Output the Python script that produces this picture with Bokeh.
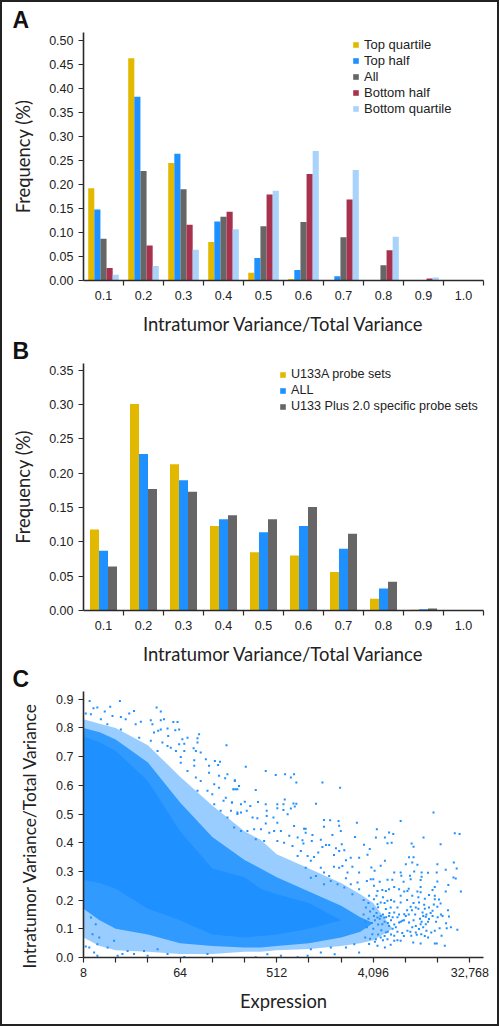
from bokeh.plotting import figure
from bokeh.layouts import column
from bokeh.models import (Range1d, FixedTicker, Legend, LegendItem, Title, NumeralTickFormatter)
from bokeh.embed import file_html
from bokeh.resources import INLINE

bins = ["0.1", "0.2", "0.3", "0.4", "0.5", "0.6", "0.7", "0.8", "0.9", "1.0"]

top_quartile = [0.192, 0.463, 0.245, 0.080, 0.016, 0.003, 0.001, 0.0, 0.0, 0.0]
top_half = [0.148, 0.383, 0.264, 0.123, 0.047, 0.022, 0.009, 0.001, 0.0, 0.0]
all_a = [0.087, 0.228, 0.190, 0.133, 0.113, 0.122, 0.090, 0.032, 0.001, 0.0]
bottom_half = [0.026, 0.073, 0.116, 0.143, 0.179, 0.222, 0.169, 0.063, 0.004, 0.0]
bottom_quartile = [0.012, 0.030, 0.064, 0.107, 0.187, 0.270, 0.230, 0.091, 0.006, 0.0]

u133a = [0.118, 0.301, 0.213, 0.123, 0.085, 0.080, 0.056, 0.017, 0.001, 0.0]
all_b = [0.087, 0.228, 0.190, 0.133, 0.114, 0.123, 0.090, 0.032, 0.002, 0.0]
u133plus = [0.064, 0.177, 0.173, 0.139, 0.133, 0.151, 0.112, 0.042, 0.003, 0.0]

# Panel C: log2(expression). Dense cloud read as envelopes at these positions.
band_x = [3, 3.5, 4, 5, 6, 7, 8, 8.5, 9, 10, 11, 11.6, 12.0, 12.6]
outer_lo = [0.07, 0.04, 0.025, 0.02, 0.012, 0.012, 0.02, 0.02, 0.025, 0.03, 0.04, 0.05, 0.06, 0.10]
outer_hi = [0.83, 0.815, 0.80, 0.74, 0.63, 0.53, 0.44, 0.41, 0.36, 0.31, 0.26, 0.22, 0.19, 0.10]
mid_lo = [0.17, 0.13, 0.10, 0.08, 0.05, 0.04, 0.035, 0.035, 0.04, 0.05, 0.07, 0.09, 0.12, 0.12]
mid_hi = [0.80, 0.785, 0.76, 0.68, 0.54, 0.42, 0.34, 0.31, 0.28, 0.23, 0.18, 0.14, 0.12, 0.12]
core_lo = [0.27, 0.26, 0.24, 0.17, 0.13, 0.08, 0.07, 0.075, 0.08, 0.10, 0.13, 0.13, 0.13, 0.13]
core_hi = [0.77, 0.75, 0.72, 0.615, 0.44, 0.31, 0.28, 0.24, 0.22, 0.19, 0.13, 0.13, 0.13, 0.13]

# Sparse points at the fringe of the cloud, as (log2 expression, variance ratio)
fringe_top = [
 (3.19,.894),(4.13,.894),(3.83,.874),(3.43,.871),(3.31,.869),(5.27,.871),(5.4,.857),(4.57,.859),(3.66,.857),
 (4.42,.85),(3.07,.85),(3.23,.848),(3.9,.842),(4.16,.838),(5.4,.827),(5.5,.83),(5.79,.821),(5.92,.821),
 (5.09,.827),(4.78,.822),(3.54,.83),(4.31,.83),(4.62,.813),(5.14,.813),(5.61,.798),(5.97,.795),(5.85,.792),
 (5.4,.795),(5.32,.79),(5.19,.784),(6.59,.778),(6.54,.764),(6.54,.749),(6.23,.766),(6.07,.761),(5.63,.772),
 (7.44,.74),(6.13,.745),(5.97,.743),(5.45,.749),(6.42,.729),(6.49,.72),(6.64,.714),(6.13,.72),(6.02,.699),
 (6.44,.687),(6.8,.691),(7.08,.685),(7.24,.682),(7.18,.671),(6.44,.668),(6.9,.668),(7.47,.639),(7.4,.625),
 (7.21,.633),(6.9,.644),(7.7,.618),(7.83,.598),(7.78,.586),(7.66,.586),(7.21,.592),(7.06,.604),(7.42,.557),
 (7.35,.546),(7.61,.54),(7.06,.534),(7.26,.511),(6.85,.581),(6.64,.615),(6.54,.581),(6.23,.65),(5.87,.72),
 (5.71,.731),(5.3,.72),(5.09,.755),(4.73,.766),(4.16,.795),(3.74,.813),(7.58,.511),(7.78,.5),(7.47,.488),
 (7.89,.534),(7.0,.569),(6.49,.627),(6.02,.679),(5.61,.737),
]
fringe_mid = [
 (8.04,.665),(8.66,.65),(8.97,.636),(9.26,.639),(9.44,.627),(9.54,.639),(9.61,.61),(10.42,.61),(10.97,.592),
 (7.7,.615),(7.83,.598),(7.66,.586),(7.73,.586),(8.35,.584),(9.25,.551),(9.02,.534),(9.02,.52),(9.21,.534),
 (9.21,.514),(9.52,.537),(9.61,.536),(9.56,.526),(9.44,.519),(9.34,.499),(10.22,.536),(8.01,.543),(8.42,.542),
 (7.61,.54),(8.66,.534),(8.18,.528),(8.07,.511),(8.69,.511),(8.69,.493),(7.89,.505),(7.78,.505),(8.9,.488),
 (8.25,.488),(8.4,.485),(9.02,.47),(8.66,.467),(9.54,.458),(10.47,.479),(10.66,.478),(10.92,.476),(11.49,.47),
 (10.47,.456),(10.94,.459),(9.85,.449),(9.9,.449),(9.9,.435),(10.73,.427),(10.99,.441),(11.43,.42),(10.11,.427),
 (10.09,.406),(10.37,.41),(9.8,.409),(9.83,.397),(10.53,.392),(10.63,.392),(10.42,.385),(11.02,.395),(10.84,.381),
 (10.94,.371),(11.1,.374),(10.78,.357),(10.29,.366),(11.3,.348),(11.56,.348),(11.15,.339),(9.65,.354),(10.16,.35),
 (11.04,.319),(11.35,.316),(10.78,.316),(10.94,.313),(10.47,.296),(10.63,.284),(11.56,.296),(11.2,.296),(11.15,.276),
 (11.51,.261),(11.3,.255),(10.68,.267),(10.89,.255),(10.06,.337),(9.9,.313),(10.37,.313),(10.22,.284),(10.06,.278),
 (10.47,.255),(11.1,.244),(11.35,.22),(11.56,.238),(8.92,.441),(9.13,.441),(9.39,.424),(9.65,.418),(8.77,.435),
 (8.51,.447),(8.3,.447),(8.09,.441),(7.89,.441),(7.68,.453),(9.23,.4),(9.49,.389),(9.75,.371),(9.02,.406),
 (8.61,.406),(8.35,.412),(9.96,.354),
]
fringe_right = [
 (13.87,.505),(12.85,.476),(12.11,.447),(12.49,.436),(12.62,.43),(12.08,.418),(12.36,.418),(13.56,.418),(14.53,.433),
 (14.68,.43),(12.44,.398),(12.57,.4),(13.19,.397),(13.25,.386),(14.09,.395),(11.89,.378),(11.82,.358),(11.71,.393),
 (13.11,.349),(13.25,.349),(13.21,.331),(13.01,.325),(13.37,.323),(13.99,.325),(14.5,.331),(14.59,.31),(14.25,.306),
 (12.36,.337),(12.23,.32),(11.94,.314),(12.04,.302),(12.65,.296),(12.85,.296),(13.27,.3),(13.5,.296),(13.7,.295),
 (13.97,.296),(12.87,.285),(13.14,.285),(13.16,.273),(13.5,.281),(13.47,.27),(14.49,.279),(14.56,.275),(14.33,.253),
 (13.99,.265),(13.91,.246),(13.84,.235),(12.94,.264),(12.44,.271),(12.59,.271),(12.2,.264),(11.92,.273),(12.0,.273),
 (11.8,.267),(14.72,.23),(14.25,.23),(13.47,.246),(12.8,.238),(13.06,.232),(13.37,.23),(13.47,.227),(12.65,.246),
 (12.49,.238),(12.28,.235),(12.39,.232),(12.13,.232),(12.02,.25),(12.85,.215),(12.96,.23),(13.21,.215),(13.73,.218),
 (13.91,.215),(13.91,.203),(14.04,.202),(14.09,.188),(13.99,.177),(14.32,.165),(14.15,.145),(14.35,.143),(14.26,.119),
 (14.41,.105),(14.28,.102),(14.61,.097),(14.22,.041),(13.97,.049),(13.91,.049),(13.47,.049),(13.24,.052),(14.12,.076),
 (13.91,.093),(13.8,.087),(14.06,.102),(13.65,.093),(13.49,.081),(13.35,.079),(13.18,.076),(12.85,.058),(12.65,.058),
 (12.54,.044),(12.36,.035),(12.13,.041),(11.87,.047),(12.39,.087),(12.65,.076),(13.06,.093),(13.32,.11),(13.47,.116),
 (13.73,.134),(13.63,.142),(13.84,.145),(13.53,.157),(13.58,.184),(13.32,.174),(13.16,.177),(13.42,.192),(13.73,.174),
 (13.84,.163),(13.01,.145),(12.9,.128),(12.8,.122),(12.96,.151),(12.75,.174),(12.85,.192),(12.65,.157),(12.49,.145),
 (12.34,.139),(12.23,.145),(12.13,.139),(12.02,.145),(12.28,.116),(12.49,.11),(12.7,.105),(12.23,.192),(12.44,.198),
 (12.13,.186),(12.54,.174),(12.39,.169),(12.02,.203),(11.87,.215),(11.77,.174),(13.21,.105),(13.32,.087),(13.42,.099),
 (13.63,.116),(13.11,.122),(12.23,.07),(12.08,.064),(12.44,.064),(11.97,.081),
 (11.7,.15),(11.75,.125),(11.8,.105),(11.85,.135),(11.9,.16),(11.95,.12),(12.0,.1),(12.05,.13),(12.1,.155),
 (12.15,.115),(12.2,.135),(12.25,.095),(12.3,.15),(12.35,.125),(12.4,.14),(12.45,.12),(12.5,.155),(12.55,.13),
 (12.6,.14),(12.65,.115),(12.75,.14),(12.8,.15),(12.85,.125),(12.95,.13),(13.05,.165),(13.1,.15),(13.2,.165),
 (13.25,.13),(13.3,.15),(13.4,.17),(13.45,.135),(13.5,.125),(13.55,.145),(13.6,.17),(13.65,.15),(13.7,.125),
 (13.78,.155),(13.88,.185),(13.95,.125),(14.0,.14),(14.1,.15),(13.55,.105),(13.7,.07),(13.6,.075),(13.15,.09),
 (12.9,.085),(12.75,.09),(12.55,.08),(12.35,.075),(12.15,.08),(12.05,.055),(11.9,.065),(11.75,.07),(12.75,.06),
 (12.95,.075),(12.6,.1),(12.45,.09),(12.3,.06),(12.0,.17),(12.15,.175),(12.35,.19),(12.55,.2),(12.65,.195),
 (12.3,.21),(12.1,.215),(11.85,.19),(11.7,.2),(13.05,.2),(13.25,.19),(13.4,.21),(13.1,.24),(13.6,.205),
]
fringe_bottom = [
 (11.56,.017),(10.8,.011),(10.37,.017),(10.06,.029),(9.65,.001),(9.13,.006),(8.71,.011),(8.35,.001),(10.68,.035),
 (11.15,.035),(11.41,.046),(9.96,.006),(3.18,.035),(3.07,.038),(3.43,.006),(3.33,.017),(4.06,.006),(4.21,.012),
 (4.57,.012),(4.99,.006),(5.61,.012),(6.13,.002),(6.85,.012),(3.49,.07),(3.28,.081),(3.38,.116),(3.23,.139),
 (3.43,.046),(3.75,.035),(3.95,.058),(4.37,.023),(4.88,.023),(5.3,.029),
]

log2_ticks = list(range(3, 16))
log2_labels = {3: "8", 6: "64", 9: "512", 12: "4,096", 15: "32,768"}

YELLOW, BLUE, GRAY, RED, LIGHT = "#E2B900", "#1E90FF", "#666666", "#A8324E", "#A9D3FB"
INK = "#222222"
TICK_FONT = "Liberation Sans"
TITLE_FONT = "Lato"


def style_axes(p):
    for ax in (p.xaxis[0], p.yaxis[0]):
        ax.axis_line_color = "#2a2a2a"
        ax.axis_line_width = 1.6
        ax.major_tick_line_color = "#2a2a2a"
        ax.major_tick_line_width = 1.2
        ax.major_tick_in = 0
        ax.major_tick_out = 5
        ax.minor_tick_line_color = None
        ax.major_label_text_font = TICK_FONT
        ax.major_label_text_font_size = "12.5px"
        ax.major_label_text_color = INK
        ax.axis_label_text_font = TITLE_FONT
        ax.axis_label_text_font_size = "18.4px"
        ax.axis_label_text_font_style = "normal"
        ax.axis_label_text_color = INK
    p.yaxis[0].axis_label_standoff = 12
    p.xgrid.visible = False
    p.ygrid.visible = False
    p.outline_line_color = None


def base_figure(height, top, frame_h, y_max, y_ticks, y_label, x_label, overlap=0):
    p = figure(width=495, height=height, frame_width=400, frame_height=frame_h,
               min_border_left=81, min_border_right=14, min_border_top=top,
               min_border_bottom=height - top - frame_h,
               x_range=Range1d(0, 10), y_range=Range1d(0, y_max),
               border_fill_color=None, background_fill_color=None,
               margin=(-overlap, 0, 0, 0),
               output_backend="svg", toolbar_location=None)
    p.xaxis.axis_label = x_label
    p.yaxis.axis_label = y_label
    p.yaxis.ticker = FixedTicker(ticks=y_ticks)
    style_axes(p)
    return p


def bar_axis(p):
    ax = p.xaxis[0]
    centers = [i + 0.5 for i in range(len(bins))]
    ax.ticker = FixedTicker(ticks=centers, minor_ticks=list(range(1, len(bins) + 1)))
    ax.major_label_overrides = dict(zip(centers, bins))
    ax.major_tick_line_color = None
    ax.minor_tick_line_color = "#2a2a2a"
    ax.minor_tick_line_width = 1.2
    ax.minor_tick_in = 0
    ax.minor_tick_out = 5
    ax.major_label_standoff = 5
    ax.axis_label_standoff = 10


def grouped_bars(p, series, bar_w, legend_xy, font_size):
    items = []
    n = len(series)
    for k, (name, vals, color) in enumerate(series):
        xs = [i + 0.5 + (k - (n - 1) / 2) * bar_w for i in range(len(bins))]
        r = p.vbar(x=xs, top=vals, bottom=0, width=bar_w, fill_color=color, line_color=None)
        items.append(LegendItem(label=name, renderers=[r]))
    legend = Legend(items=items, location=legend_xy, orientation="vertical",
                    background_fill_alpha=0, border_line_color=None,
                    padding=0, margin=0, spacing=0, label_height=16,
                    glyph_width=7, glyph_height=7, label_standoff=5,
                    label_text_font=TICK_FONT, label_text_font_size=font_size, label_text_color=INK)
    p.add_layout(legend)


def letter(p, s):
    p.add_layout(Title(text=s, align="left", offset=-71, standoff=0, text_line_height=0.8,
                       text_font=TICK_FONT, text_font_style="bold", text_font_size="23px",
                       text_color="#111111"), "above")


# Panel A
pa = base_figure(338, 30, 248, 0.5167, [i * 0.05 for i in range(11)], "Frequency (%)",
                 "Intratumor Variance/Total Variance")
pa.yaxis.formatter = NumeralTickFormatter(format="0.00")
bar_axis(pa)
grouped_bars(pa, [("Top quartile", top_quartile, YELLOW), ("Top half", top_half, BLUE), ("All", all_a, GRAY),
                  ("Bottom half", bottom_half, RED), ("Bottom quartile", bottom_quartile, LIGHT)],
             0.153, (269, 164), "13px")
letter(pa, "A")

# Panel B
pb = base_figure(337, 30, 247, 0.36, [i * 0.05 for i in range(8)], "Frequency (%)",
                 "Intratumor Variance/Total Variance", overlap=7)
pb.yaxis.formatter = NumeralTickFormatter(format="0.00")
bar_axis(pb)
grouped_bars(pb, [("U133A probe sets", u133a, YELLOW), ("ALL", all_b, BLUE),
                  ("U133 Plus 2.0 specific probe sets", u133plus, GRAY)],
             0.225, (196, 196), "12.6px")
letter(pb, "B")

# Panel C
pc = base_figure(363, 30, 266, 0.927, [i * 0.1 for i in range(10)], None, "Expression", overlap=9)
pc.x_range = Range1d(3, 3 + 400 / 32.2)
pc.yaxis.formatter = NumeralTickFormatter(format="0.0")
pc.xaxis.ticker = FixedTicker(ticks=log2_ticks)
pc.xaxis.major_label_overrides = {t: log2_labels.get(t, "") for t in log2_ticks}
pc.xaxis.major_label_standoff = 5
pc.xaxis.axis_label_standoff = 10
pc.varea(x=band_x, y1=outer_lo, y2=outer_hi, fill_color=BLUE, fill_alpha=0.45)
pc.varea(x=band_x, y1=mid_lo, y2=mid_hi, fill_color=BLUE, fill_alpha=0.85)
pc.varea(x=band_x, y1=core_lo, y2=core_hi, fill_color=BLUE, fill_alpha=1.0)
for pts in (fringe_top, fringe_mid, fringe_right, fringe_bottom):
    pc.scatter(x=[q[0] for q in pts], y=[q[1] for q in pts], marker="square", size=2,
               fill_color=BLUE, line_color=None)
pc.add_layout(Title(text="Intratumor Variance/Total Variance", align="left", offset=-11, standoff=28,
                    text_font=TITLE_FONT, text_font_style="normal", text_font_size="17.4px",
                    text_color=INK), "left")
letter(pc, "C")

page = column(pa, pb, pc, width=499, height=1026, spacing=0,
              styles={"border": "2px solid #222222", "box-sizing": "border-box"})
open("out.html", "w").write(file_html(page, INLINE))
